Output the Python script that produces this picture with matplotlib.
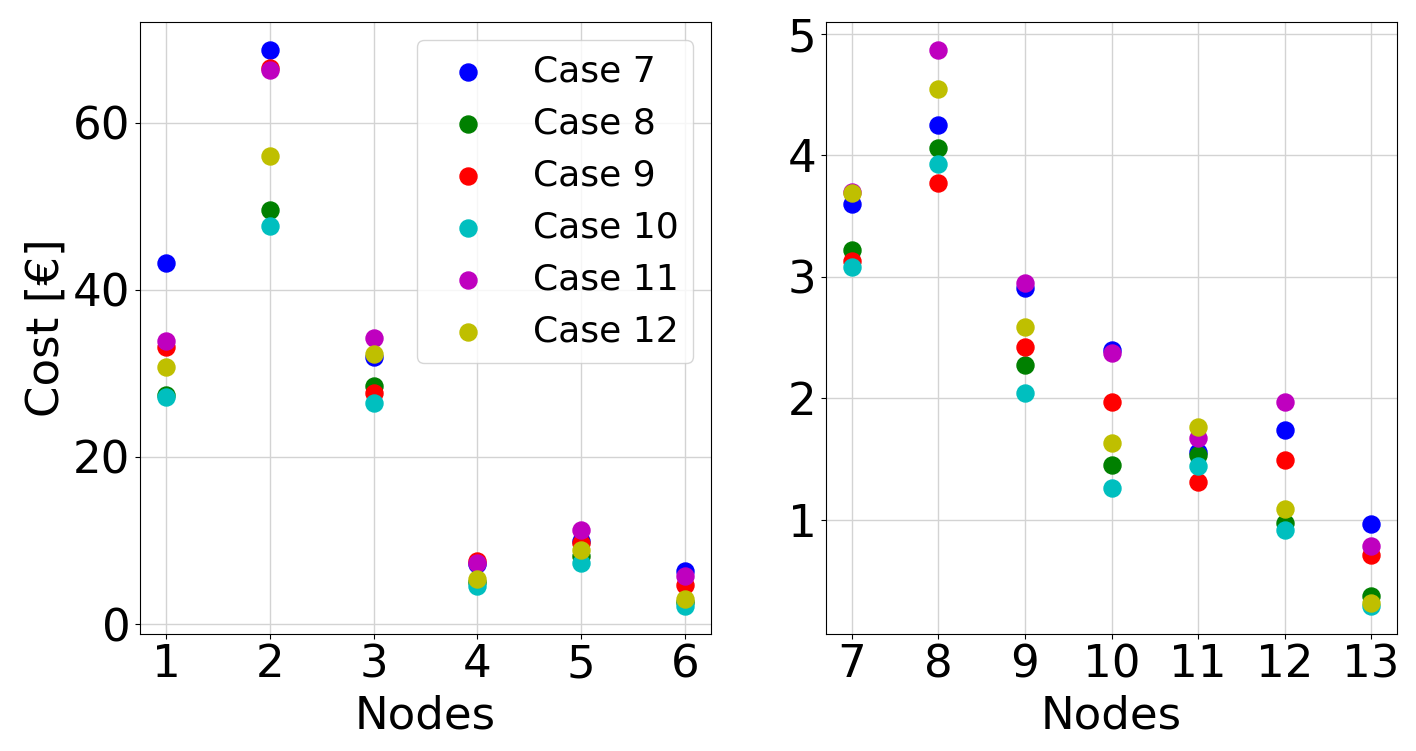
import matplotlib
matplotlib.use("Agg")
import matplotlib.pyplot as plt

cases = ["Case 7", "Case 8", "Case 9", "Case 10", "Case 11", "Case 12"]
colors = ["b", "g", "r", "c", "m", "y"]

nodes_left = [1, 2, 3, 4, 5, 6]
nodes_right = [7, 8, 9, 10, 11, 12, 13]

# values per case for nodes 1-6
left_case7 = [43.2, 68.7, 32.0, 7.2, 9.9, 6.3]
left_case8 = [27.4, 49.5, 28.5, 5.0, 8.1, 2.6]
left_case9 = [33.2, 66.5, 27.7, 7.6, 9.7, 4.7]
left_case10 = [27.2, 47.6, 26.5, 4.5, 7.3, 2.2]
left_case11 = [33.9, 66.3, 34.2, 7.3, 11.3, 5.75]
left_case12 = [30.7, 56.0, 32.3, 5.4, 8.9, 3.0]

# values per case for nodes 7-13
right_case7 = [3.60, 4.25, 2.91, 2.40, 1.56, 1.74, 0.96]
right_case8 = [3.22, 4.06, 2.27, 1.45, 1.53, 0.97, 0.37]
right_case9 = [3.13, 3.77, 2.42, 1.97, 1.31, 1.49, 0.71]
right_case10 = [3.08, 3.93, 2.04, 1.26, 1.44, 0.91, 0.29]
right_case11 = [3.70, 4.87, 2.95, 2.37, 1.67, 1.97, 0.78]
right_case12 = [3.69, 4.55, 2.59, 1.63, 1.76, 1.09, 0.31]

left_series = [left_case7, left_case8, left_case9, left_case10, left_case11, left_case12]
right_series = [right_case7, right_case8, right_case9, right_case10, right_case11, right_case12]

fig = plt.figure(figsize=(14.16, 7.51), dpi=100)
ax1 = fig.add_axes([140 / 1416, 1 - 633.5 / 751, 571 / 1416, 611.5 / 751])
ax2 = fig.add_axes([826 / 1416, 1 - 633.5 / 751, 571 / 1416, 611.5 / 751])

fs = 32.5
for ax, xs, series in ((ax1, nodes_left, left_series), (ax2, nodes_right, right_series)):
    ax.set_axisbelow(True)
    ax.grid(True, color="#d3d3d3", linewidth=1)
    for vals, col, lab in zip(series, colors, cases):
        ax.scatter(xs, vals, s=150, color=col, label=lab, zorder=3)
    ax.set_xticks(xs)
    ax.tick_params(labelsize=fs)
    ax.set_xlabel("Nodes", fontsize=fs, labelpad=6)

ax1.set_ylabel("Cost [€]", fontsize=fs)
ax1.set_yticks([0, 20, 40, 60])
ax2.set_yticks([1, 2, 3, 4, 5])
ax1.legend(fontsize=26, loc="upper right")

fig.savefig("out.png", dpi=100)
